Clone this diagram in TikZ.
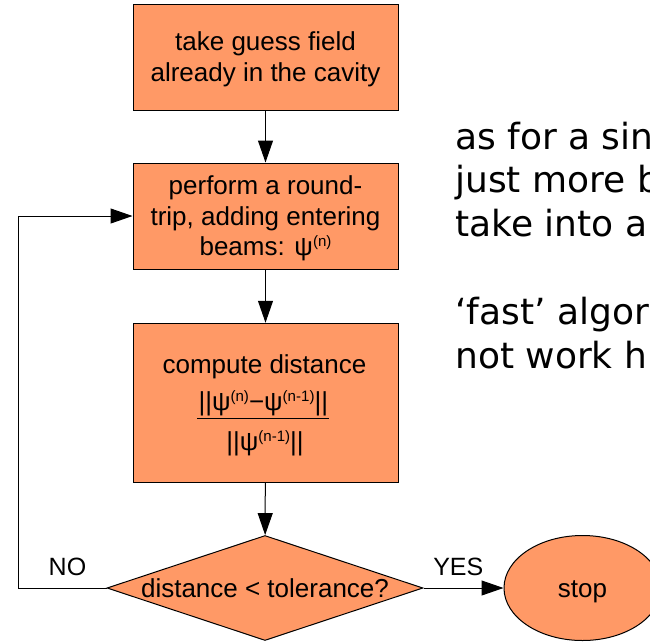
\documentclass[tikz,border=0pt]{standalone}
\usepackage{fontspec}
\setmainfont{Liberation Sans}
\newfontfamily\notefont{DejaVu Sans}
\usetikzlibrary{shapes.geometric,arrows.meta}
\definecolor{boxfill}{HTML}{FF9966}
% strut with the ascent/descent of the box font, so lines centre like the boxes
\newcommand\lo{\rule[-0.212em]{0pt}{1.117em}}
% small raised index such as (n)
\newcommand\upidx[1]{\raisebox{0.33em}{\fontsize{11.3pt}{11.3pt}\selectfont #1}}
\begin{document}
\begin{tikzpicture}[x=0.75pt, y=-0.75pt,
  boxfont/.style={font=\fontsize{19.5pt}{21.75pt}\selectfont},
  stepbox/.style={boxfont, draw=black, line width=0.75pt, fill=boxfill,
    minimum width=198.75pt, minimum height=79.5pt, inner sep=0pt, align=center},
  txt/.style={boxfont, inner sep=0pt, anchor=base},
  lbl/.style={font=\fontsize{18.75pt}{21pt}\selectfont, inner sep=0pt, anchor=base},
  flow/.style={line width=0.75pt, -{Triangle[length=16.5pt,width=11.25pt]}},
  notes/.style={font=\notefont\fontsize{27pt}{32.85pt}\selectfont,
    inner sep=0pt, anchor=base west, align=left}]
\useasboundingbox (0,0) rectangle (650,643);
\clip (0,0) rectangle (650,643);

% process boxes
\node[stepbox] (guess) at (265.5,57) {\lo take guess field\\\lo already in the cavity};
\node[stepbox] (trip) at (265.5,216) {\lo perform a round-\\\lo trip, adding entering\\\lo beams: ψ\upidx{(n)}};
\node[stepbox, minimum height=119.25pt] (dist) at (265.5,402.75) {};
\node[txt] (distlbl) at (264.5,373) {compute distance};
\node[txt] (num) at (263.3,410) {||ψ\upidx{(n)}−ψ\upidx{(n-1)}||};
\node[txt] (den) at (265,450) {||ψ\upidx{(n-1)}||};
\draw[line width=0.75pt] (197,418.3) -- (329,418.3);

% decision and end
\node[diamond, boxfont, draw=black, line width=0.75pt, fill=boxfill,
  minimum width=237pt, minimum height=78.75pt, inner sep=0pt]
  (check) at (265,588) {\makebox[0pt]{\lo distance < tolerance?}};
\node[ellipse, boxfont, draw=black, line width=0.75pt, fill=boxfill,
  minimum width=117.75pt, minimum height=78.75pt, inner sep=0pt]
  (stop) at (582.5,588) {\lo stop};

% connectors
\draw[flow] (guess) -- (trip);
\draw[flow] (trip) -- (dist);
\draw[flow] (dist) -- (check);
\draw[flow] (check.east) -- (stop.west);
\coordinate (loopx) at (18,588);
\draw[flow] (check.west) -- (loopx) |- (trip.west);

\node[lbl] (no) at (67.5,575.7) {NO};
\node[lbl] (yes) at (458.3,575) {YES};

% side notes (anchored on the baseline of their last line)
\node[notes] (note1) at (455,236.6) {as for a sin\\just more b\\take into a};
\node[notes] (note2) at (455,368) {‘fast’ algor\\not work h};
\end{tikzpicture}
\end{document}
